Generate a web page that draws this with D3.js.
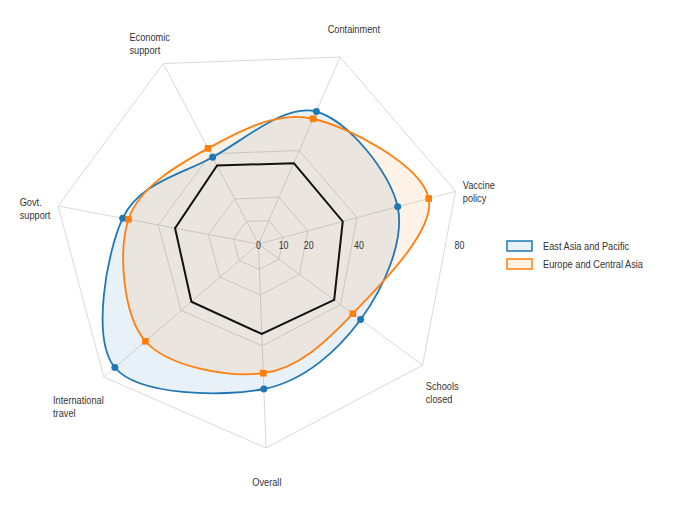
<!DOCTYPE html>
<meta charset="utf-8">
<style>
body { margin: 0; background: #fff; }
text { font-family: "Liberation Sans", Arial, sans-serif; fill: #333; }
.grid { fill: none; stroke: #d9d9d9; stroke-width: 1px; }
</style>
<body>
<script src="https://cdn.jsdelivr.net/npm/d3@7/dist/d3.min.js"></script>
<script>

// axes, clockwise from the top right
var categories = ["Containment", "Vaccine\npolicy", "Schools\nclosed", "Overall",
                  "International\ntravel", "Govt.\nsupport", "Economic\nsupport"];
var eastAsia = [56.7, 56.5, 49.8, 56.9, 74.3, 54.2, 38.5];
var europe   = [53.6, 69.1, 46.0, 50.7, 58.5, 51.9, 42.4];
var baseline = [34.6, 34.2, 36.9, 35.3, 34.7, 33.3, 34.8];
var tickValues = [0, 10, 20, 40, 80];
var seriesNames = ["East Asia and Pacific", "Europe and Central Asia"];

var width = 680, height = 510;
var cx = 258.5, cy = 244, radius = 204;
var rotation = 23.6; // degrees clockwise from 12 o'clock for the first axis
var n = categories.length;
var squeeze = 0.84;  // the labels use a narrow face; no narrow font installed

var r = d3.scaleLinear().domain([0, 80]).range([0, radius]);
var angle = function(i) { return (rotation + i * 360 / n) * Math.PI / 180; };

var series = [
  {name: seriesNames[0], values: eastAsia, color: "#1f77b4", fill: "rgba(31,119,180,0.1)", symbol: d3.symbolCircle, size: 38},
  {name: seriesNames[1], values: europe,   color: "#ff7f0e", fill: "rgba(255,127,14,0.1)", symbol: d3.symbolSquare, size: 44}
];

var svg = d3.select("body").append("svg")
    .attr("width", width)
    .attr("height", height);

var g = svg.append("g")
    .attr("transform", "translate(" + cx + "," + cy + ")");

var polygon = d3.lineRadial()
    .angle(function(d, i) { return angle(i); })
    .radius(function(d) { return r(d); })
    .curve(d3.curveLinearClosed);

var spline = d3.lineRadial()
    .angle(function(d, i) { return angle(i); })
    .radius(function(d) { return r(d); })
    .curve(d3.curveCardinalClosed.tension(0));

// grid rings
g.selectAll(".ring")
    .data(tickValues.filter(function(t) { return t > 0; }))
  .enter().append("path")
    .attr("class", "grid")
    .attr("d", function(t) { return polygon(categories.map(function() { return t; })); });

// spokes
g.selectAll(".spoke")
    .data(categories)
  .enter().append("line")
    .attr("class", "grid")
    .attr("x1", 0).attr("y1", 0)
    .attr("x2", function(d, i) { return r(80) * Math.sin(angle(i)); })
    .attr("y2", function(d, i) { return -r(80) * Math.cos(angle(i)); });

// filled areas
series.forEach(function(s) {
  g.append("path")
      .attr("d", spline(s.values))
      .attr("fill", s.fill)
      .attr("stroke", "none");
});

// reference heptagon
g.append("path")
    .attr("d", polygon(baseline))
    .attr("fill", "none")
    .attr("stroke", "#111")
    .attr("stroke-width", 2);

// outlines and markers
series.forEach(function(s) {
  g.append("path")
      .attr("d", spline(s.values))
      .attr("fill", "none")
      .attr("stroke", s.color)
      .attr("stroke-width", 1.8);

  g.selectAll(null)
      .data(s.values)
    .enter().append("path")
      .attr("d", d3.symbol().type(s.symbol).size(s.size))
      .attr("fill", s.color)
      .attr("transform", function(d, i) {
        return "translate(" + (r(d) * Math.sin(angle(i))) + "," + (-r(d) * Math.cos(angle(i))) + ")";
      });
});

// radial tick labels
g.selectAll(".tick")
    .data(tickValues)
  .enter().append("text")
    .attr("transform", function(d) { return "translate(" + (r(d) * 0.985) + ",1) scale(" + squeeze + ",1)"; })
    .attr("dy", "0.35em")
    .attr("text-anchor", "middle")
    .style("font-size", "10.5px")
    .text(function(d) { return d; });

// category labels
var lineHeight = 13;
categories.forEach(function(c, i) {
  var a = angle(i), s = Math.sin(a), co = Math.cos(a);
  var lines = c.split("\n");
  var t = g.append("text").style("font-size", "11px");
  lines.forEach(function(l, j) {
    t.append("tspan").attr("x", 0).attr("y", j * lineHeight).text(l);
  });
  var w = t.node().getBBox().width * squeeze;
  var px = r(80) * s + 8 * s;
  var py = -r(80) * co - 22 * co;
  var left = px - w / 2 + (w / 2) * s;
  var top = py - lineHeight / 2 - (lineHeight / 2) * co + 3.5 - 3.8 * co;
  t.attr("transform", "translate(" + left + "," + (top + 9) + ") scale(" + squeeze + ",1)");
});

// legend
var legend = svg.append("g")
    .attr("transform", "translate(507,241)");

series.forEach(function(s, i) {
  var row = legend.append("g").attr("transform", "translate(0," + (i * 18) + ")");
  row.append("rect")
      .attr("width", 25).attr("height", 10)
      .attr("fill", s.fill)
      .attr("stroke", s.color)
      .attr("stroke-width", 1.5);
  row.append("text")
      .attr("transform", "translate(36,5) scale(" + squeeze + ",1)")
      .attr("dy", "0.35em")
      .style("font-size", "11px")
      .text(s.name);
});

</script>
</body>
